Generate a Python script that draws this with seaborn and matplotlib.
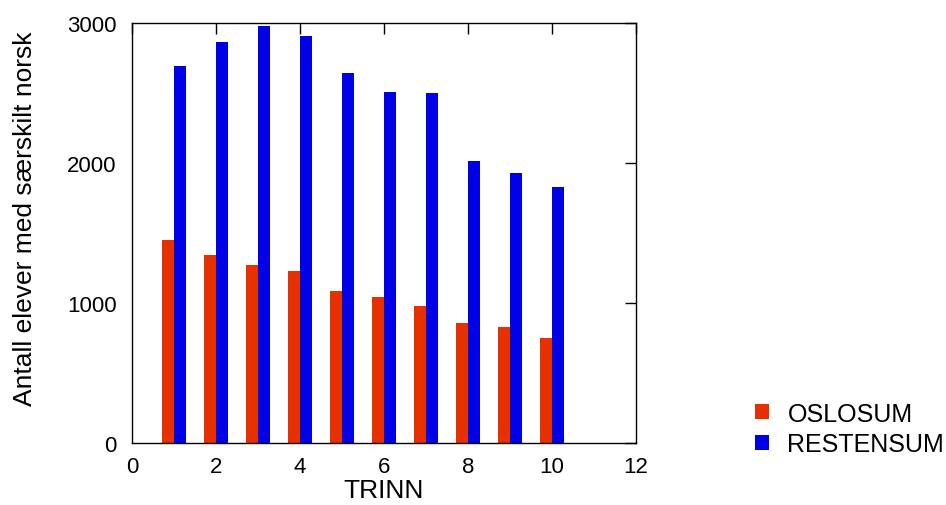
import matplotlib.pyplot as plt
import seaborn as sns
import pandas as pd

trinn = [1, 2, 3, 4, 5, 6, 7, 8, 9, 10]
oslosum = [1448, 1340, 1271, 1229, 1086, 1040, 976, 859, 831, 748]
restensum = [2690, 2862, 2981, 2905, 2640, 2510, 2502, 2017, 1926, 1829]

df = pd.DataFrame({
    'TRINN': trinn * 2,
    'antall': oslosum + restensum,
    'serie': ['OSLOSUM'] * len(trinn) + ['RESTENSUM'] * len(trinn),
})

sns.set_style('white')
plt.rcParams['font.family'] = ['Liberation Sans', 'DejaVu Sans']
plt.rcParams['text.color'] = 'black'

fig = plt.figure(figsize=(9.46, 5.06), dpi=100)
ax = fig.add_axes([0.1395, 0.1225, 0.5328, 0.8301])
sns.barplot(data=df, x='TRINN', y='antall', hue='serie', native_scale=True,
            palette=['#E63000', '#0000E6'], width=0.572, dodge=True,
            saturation=1, errorbar=None, linewidth=0, ax=ax)

ax.set_xlim(0, 12)
ax.set_ylim(0, 3000)
ax.set_xticks(range(0, 13, 2))
ax.set_yticks([0, 1000, 2000, 3000])
ax.tick_params(direction='in', length=8, width=1, top=True, right=True,
               labelsize=16, colors='black')
ax.tick_params(axis='x', pad=9)
ax.tick_params(axis='y', pad=11)
for s in ax.spines.values():
    s.set_color('black')
    s.set_linewidth(1)
ax.set_xlabel('TRINN', fontsize=19, labelpad=1, color='black')
ax.set_ylabel('Antall elever med særskilt norsk', fontsize=19, color='black')
ax.yaxis.set_label_coords(-0.188, 0.537)

handles, labels = ax.get_legend_handles_labels()
ax.legend_.remove()
fig.legend(handles, labels, loc='upper left', bbox_to_anchor=(0.798, 0.204),
           frameon=False, fontsize=18, handlelength=0.55, handleheight=0.55,
           handletextpad=0.75, labelspacing=0.25, borderpad=0, borderaxespad=0,
           labelcolor='black')

fig.savefig('out.png', dpi=100)
